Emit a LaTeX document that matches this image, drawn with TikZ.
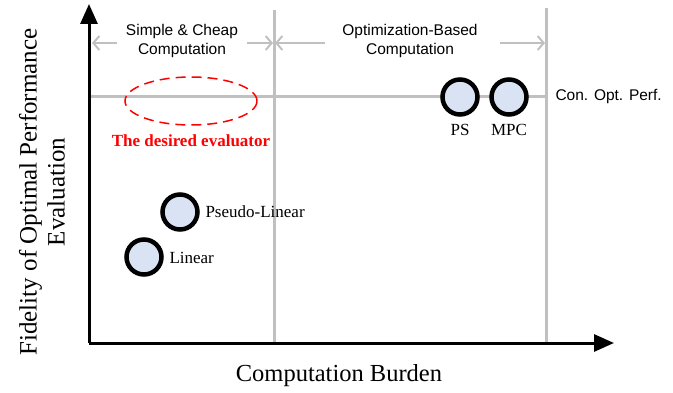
\documentclass[tikz,border=0pt]{standalone}
\usepackage{fontspec}
\setmainfont{Liberation Serif}
\newfontfamily\arialfont{Liberation Sans}
\usetikzlibrary{arrows.meta,shapes.geometric}
\definecolor{gridgray}{RGB}{192,192,192}
\definecolor{dotfill}{RGB}{218,227,243}

\begin{document}
\begin{tikzpicture}[x=1pt, y=-1pt,
		axis/.style={line width=3pt, -{Triangle[length=20pt,width=17pt]}},
		grid/.style={draw=gridgray, line width=3pt},
		span/.style={draw=gridgray, line width=2pt, -{Straight Barb[length=6pt,width=14pt]}},
		method/.style={circle, draw=black, line width=4.5pt, fill=dotfill,
			minimum size=35pt, inner sep=0pt},
		lbl/.style={font=\fontsize{17}{20}\selectfont},
		region/.style={font=\arialfont\fontsize{15.5}{19}\selectfont, align=center}
		]
		\useasboundingbox (0,0) rectangle (673,393);
		
		% Frame points
		\coordinate (O)    at (89,343);
		\coordinate (ytop) at (89,4);
		\coordinate (xend) at (614,343);
		\coordinate (b1)   at (274,343);
		\coordinate (t1)   at (274,10);
		\coordinate (b2)   at (546,343);
		\coordinate (t2)   at (546,8);
		\coordinate (hl)   at (89,97);
		\coordinate (hr)   at (546,97);
		
		% Grey guide lines
		\draw[grid] (b1) -- (t1);
		\draw[grid] (b2) -- (t2);
		\draw[grid] (hl) -- (hr);
		
		% Region spans
		\coordinate (s1a) at (117,43);
		\coordinate (s1b) at (92,43);
		\coordinate (s2a) at (247,43);
		\coordinate (s2b) at (273,43);
		\coordinate (s3a) at (325,43);
		\coordinate (s3b) at (275,43);
		\coordinate (s4a) at (500,43);
		\coordinate (s4b) at (545,43);
		\draw[span] (s1a) -- (s1b);
		\draw[span] (s2a) -- (s2b);
		\draw[span] (s3a) -- (s3b);
		\draw[span] (s4a) -- (s4b);
		\node[region] (simple) at (182,41) {Simple \& Cheap\\Computation};
		\node[region] (optim)  at (410,41) {Optimization-Based\\Computation};
		\node[region, anchor=west] (cop) at (552,97) {Con. Opt. Perf.};
		
		% Axes
		\draw[axis] (O) -- (ytop);
		\draw[axis] (O) -- (xend);
		\node[font=\fontsize{24.5}{29}\selectfont] (xlab) at (339,376) {Computation Burden};
		\node[rotate=90, align=center, font=\fontsize{25}{28}\selectfont] (ylab) at (42,192)
		{Fidelity of Optimal Performance\\Evaluation};
		
		% Evaluators
		\node[method] (ps)  at (460,97)  {};
		\node[method] (mpc) at (509,97)  {};
		\node[method] (pl)  at (180,212) {};
		\node[method] (lin) at (144,257) {};
		\node[lbl] at (460,130) {PS};
		\node[lbl] at (509,130) {MPC};
		\node[lbl, anchor=west] at (202,212) {Pseudo-Linear};
		\node[lbl, anchor=west] at (166,258) {Linear};
		
		% Desired evaluator
		\node[ellipse, draw=red, line width=1.5pt, dash pattern=on 10pt off 6pt,
		minimum width=132pt, minimum height=48pt] (goal) at (191,101) {};
		\node[text=red, font=\bfseries\fontsize{17}{20}\selectfont] (goaltxt) at (191,141)
		{The desired evaluator};
	\end{tikzpicture}
\end{document}
